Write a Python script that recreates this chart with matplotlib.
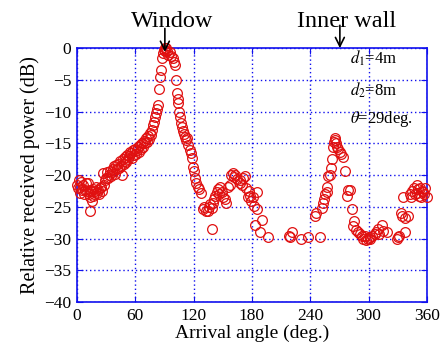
import matplotlib
matplotlib.use("Agg")
import matplotlib.pyplot as plt

plt.rcParams['font.family'] = ['Liberation Serif', 'DejaVu Serif']
plt.rcParams['mathtext.fontset'] = 'stix'

# measured relative received power vs arrival angle
angle = [0.5, 1, 2, 3, 3.5, 4.5, 5, 6, 7, 8, 9, 10, 11, 12, 13, 13.5, 14, 15, 16, 16.5,
         17, 18, 19, 20, 21, 22, 23, 24, 25, 26, 27, 28, 29,
         30, 31, 32, 33, 34, 35, 36, 37, 38, 39, 40, 41, 42, 43, 44, 45, 46, 47, 48, 49,
         50, 51, 52, 53, 54, 55, 56, 57, 58, 59, 60,
         61, 62, 63, 64, 65, 66, 67, 68, 69, 70, 71, 72, 73, 74, 75, 76,
         77, 78, 79, 80, 81, 82, 83.5, 84.7, 86, 87, 88, 89, 89.5, 90.5, 91, 92, 93, 94,
         95.7, 97, 99, 100, 101, 101.5, 102.5, 103.5, 104, 105, 106, 107, 107.7, 109, 110,
         111, 112, 113, 114.5, 116, 117, 118, 119.5, 120, 121, 123, 124.6, 126, 128,
         129.8, 131, 133, 134.7, 136, 137, 138.5, 139, 140, 141, 142, 143.7, 145, 146, 147,
         149, 150, 152, 153, 155, 157, 159, 160.5, 162, 163, 165, 167.7, 168, 170, 171,
         172.8, 174, 176, 177, 178, 179, 181, 182, 183, 184.8, 185, 188, 190, 196.5,
         218, 219, 220.8, 231, 237.7, 244.8, 246, 250, 251.7, 253, 254, 255, 256.8, 257,
         258, 260, 261, 262, 263.3, 264, 265.4, 266, 267, 268, 269, 270.5, 272, 273.6,
         275.7, 277.4, 278.7, 281, 282.5, 284, 285.5, 287, 289, 291, 293, 294, 296, 297,
         299, 301, 302, 304, 306.5, 308, 310, 311, 313.4, 315, 318.5, 329, 330, 331, 333,
         334, 335.3, 337.4, 338, 340.5, 342.5, 344, 345, 347, 348, 349.4, 350, 351, 352,
         353, 354, 355, 356, 357, 358, 359.7]
power = [-21.5, -22, -20.7, -21.8, -22.8, -21, -22.3, -21.5, -23, -22.3, -21.2, -22.5, -21.2,
         -23, -22.3, -25.7, -23.5, -22.5, -24.1, -23.2,
         -22.2, -23, -22.5, -21.8, -22.8, -22.3, -23, -22, -21.8, -22.5, -19.6, -21.5, -20.8,
         -20.4, -19.5, -20.4, -20, -19.3, -20.2, -19.5, -19.1, -18.6, -19.8, -18.4, -19, -18.2,
         -18.8, -17.8, -18.5, -19.9, -17.5, -18.2, -17.8,
         -17.2, -18, -16.8, -17.5, -17, -16.4, -16.5, -17.3, -16, -16.8, -15.8,
         -16.7, -16, -15.5, -16.3, -15.2, -15.8, -14.9, -15.5, -14.6, -15, -14.2, -14.7, -13.9,
         -14.3, -13.4, -13.6,
         -12.9, -12.1, -11.6, -10.8, -10.2, -9.5, -9, -6.5, -4.5, -3.5, -1.6, -0.8, -0.3, 0,
         -0.5, 0, -0.4, -1,
         -0.6, -1.2, -1.6, -2.2, -2.7, -5, -7, -8, -8.6, -10, -10.8, -11.8, -12.4, -13, -13.5,
         -14, -14.5, -14.2, -15.2, -16, -16.5, -17.3, -18.7, -19.4, -20.4, -21.2, -21.8, -22.2,
         -22.8,
         -25.4, -25, -25.6, -25.7, -25, -24.5, -28.5, -25.2, -24.3, -23.8, -23.2, -22.7, -22.2,
         -23, -21.8,
         -22.6, -23.5, -23.8, -24.3, -21.8, -21.5, -19.9, -19.6, -20.3, -20, -20.6, -20.7, -21.2,
         -21.5, -20.4,
         -20.2, -22, -23.4, -22.5, -23.3, -24, -23.5, -24.8, -27.8, -22.6, -25.4, -29, -27,
         -29.8,
         -29.5, -29.8, -29, -30.1, -29.8, -26.5, -26, -29.8, -25.1, -24.3, -23.8, -23, -22.6,
         -21.8,
         -20.2, -19.9, -18.8, -17.4, -15.5, -14.8, -14.1, -14.5, -14.9, -15.5, -15.8, -16.3,
         -16.6, -17.1,
         -19.4, -23.3, -22.3, -22.3, -25.4, -28, -27.2, -28.6, -29, -29.3, -29.5, -30, -29.6,
         -30.2,
         -30, -29.8, -30.1, -29.5, -29.3, -29, -28.5, -29.2, -27.8, -28.8, -29, -30, -29.8,
         -29.6, -26,
         -26.5, -23.5, -29, -26.8, -26.5, -23, -23.5, -22.5, -22, -23, -21.5, -22.8, -22.2,
         -23.2,
         -22, -23.5, -22.5, -22.6, -23, -22, -23.4]

xticks = [0, 60, 120, 180, 240, 300, 360]
yticks = [0, -5, -10, -15, -20, -25, -30, -35, -40]
blue = '#1010ee'

fig = plt.figure(figsize=(4.47, 3.49), dpi=100)
ax = fig.add_axes([0.172, 0.134, 0.783, 0.728])

ax.plot(angle, power, 'o', mfc='none', mec='#e01010', ms=7, mew=0.9, clip_on=False, zorder=3)

ax.set_xlim(0, 360)
ax.set_ylim(-40, 0)
ax.set_xticks(xticks)
ax.set_yticks(yticks)
ax.grid(True, color=blue, linestyle=(0, (1, 2)), linewidth=1.0)
for s in ax.spines.values():
    s.set_color(blue)
    s.set_linewidth(1.2)
ax.tick_params(direction='in', colors=blue, labelcolor='black', labelsize=12.5,
               top=True, right=True, length=4, pad=4)

ax.set_xlabel('Arrival angle (deg.)', fontsize=14, labelpad=1)
ax.set_ylabel('Relative received power (dB)', fontsize=14.5, labelpad=3)

# annotations
ax.annotate('', xy=(90.5, -0.6), xytext=(90.5, 3.1), annotation_clip=False,
            arrowprops=dict(arrowstyle='->', color='black', lw=1.2, mutation_scale=16,
                            shrinkA=0, shrinkB=0))
ax.text(98, 3.3, 'Window', fontsize=17.5, ha='center', va='baseline')
ax.annotate('', xy=(270.5, 0), xytext=(270.5, 3.6), annotation_clip=False,
            arrowprops=dict(arrowstyle='->', color='black', lw=1.2, mutation_scale=16,
                            shrinkA=0, shrinkB=0))
ax.text(277, 3.3, 'Inner wall', fontsize=17.5, ha='center', va='baseline')

ax.text(280.5, -1.6, r'$d_1$=4m', fontsize=12, va='center')
ax.text(280.5, -6.6, r'$d_2$=8m', fontsize=12, va='center')
ax.text(281, -11.1, r'$\theta$=29deg.', fontsize=12, va='center')

fig.savefig('out.png', dpi=100)
